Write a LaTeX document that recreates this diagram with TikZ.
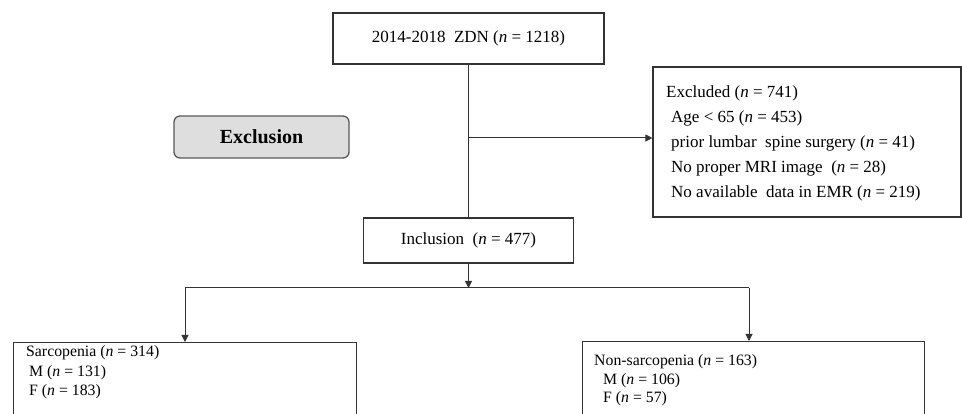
\documentclass[tikz,border=0pt]{standalone}
\usepackage{fontspec}
\setmainfont{Liberation Serif}
\usetikzlibrary{arrows.meta}
\begin{document}
\begin{tikzpicture}[x=1pt,y=-1pt,
  box/.style={draw=black!80,line width=1.1pt,inner sep=0pt},
  conn/.style={draw=black!80,line width=1pt},
  arr/.style={conn,-{Triangle[length=7pt,width=7pt]}},
  main/.style={font=\fontsize{17}{20}\selectfont},
  small/.style={font=\fontsize{15.8}{19}\selectfont,anchor=base west,inner sep=0pt},
  exl/.style={font=\fontsize{17}{20}\selectfont,anchor=base west,inner sep=0pt}]
\useasboundingbox (0,0) rectangle (962,414);
\clip (0,0) rectangle (962,414);
% boxes
\node[box,main,minimum width=271pt,minimum height=51pt] (top) at (468.5,38.5) {2014-2018\ \ ZDN (\textit{n} = 1218)};
\node[draw=black!65,fill=black!13,line width=1.3pt,rounded corners=6pt,minimum width=175pt,minimum height=42pt,font=\bfseries\fontsize{20}{24}\selectfont] (exc) at (261.5,137) {Exclusion};
\node[box,minimum width=308pt,minimum height=150pt] (exbox) at (807,142) {};
\node[exl] (ex1) at (666,97.7) {Excluded (\textit{n} = 741)};
\node[exl] (ex2) at (671,122.7) {Age {<} 65 (\textit{n} = 453)};
\node[exl] (ex3) at (671,147.7) {prior lumbar\ \ spine surgery (\textit{n} = 41)};
\node[exl] (ex4) at (671,172.7) {No proper MRI image\ \ (\textit{n} = 28)};
\node[exl] (ex5) at (671,197.7) {No available\ \ data in EMR (\textit{n} = 219)};
\node[box,main,minimum width=210pt,minimum height=45pt] (inc) at (468.5,240.5) {Inclusion\ \ (\textit{n} = 477)};
\node[box,minimum width=343pt,minimum height=120pt,anchor=north west] (sar) at (13,342) {};
\node[box,minimum width=342pt,minimum height=120pt,anchor=north west] (non) at (582,341) {};
\node[small] (s1) at (26,356.7) {Sarcopenia (\textit{n} = 314)};
\node[small] (s2) at (29,376) {M (\textit{n} = 131)};
\node[small] (s3) at (29,395) {F (\textit{n} = 183)};
\node[small] (n1) at (594,365) {Non-sarcopenia (\textit{n} = 163)};
\node[small] (n2) at (603,384) {M (\textit{n} = 106)};
\node[small] (n3) at (603,402.7) {F (\textit{n} = 57)};
% connectors
\coordinate (br) at (468.5,138);
\coordinate (hl) at (185,288);
\coordinate (hr) at (749,288);
\draw[conn] (top.south) -- (inc.north);
\draw[arr] (br) -- (exbox.west |- br);
\draw[conn] (hl) -- (hr);
\draw[arr] (inc.south) -- (inc.south |- hl);
\draw[arr] (hl) -- (hl |- sar.north);
\draw[arr] (hr) -- (hr |- non.north);
\end{tikzpicture}
\end{document}
